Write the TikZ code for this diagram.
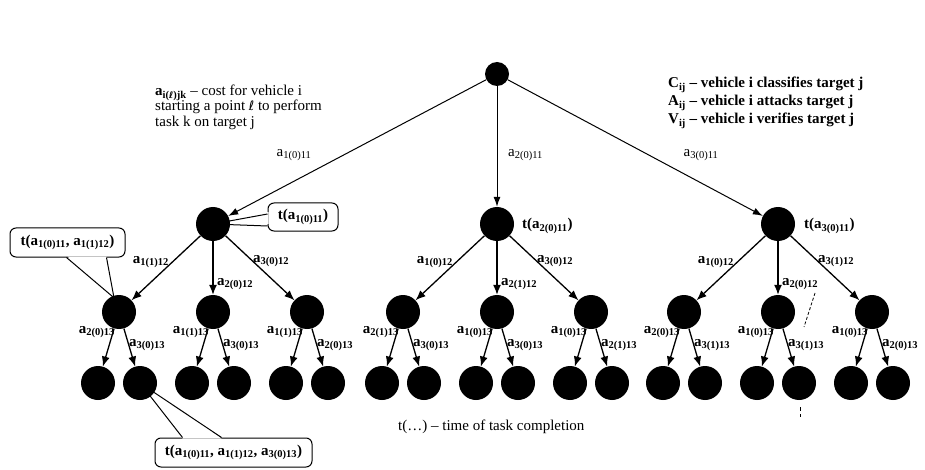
\documentclass[tikz,border=0pt]{standalone}
\usepackage{fontspec}
\setmainfont{Liberation Serif}
\newfontfamily\dvsf{DejaVu Sans}
\usetikzlibrary{arrows.meta,calc}
\pgfdeclarelayer{background}
\pgfsetlayers{background,main}
\newcommand\ev[1]{a\textsubscript{#1}}
\tikzset{
  rootdot/.style={circle,fill=black,inner sep=0pt,minimum size=24pt},
  dotnode/.style={circle,fill=black,inner sep=0pt,minimum size=34pt},
  arr/.style={-{Latex[length=10pt,width=8pt]},line width=1.3pt},
  toparr/.style={-{Latex[length=10pt,width=7pt]},line width=1pt},
  elab/.style={font=\fontsize{15}{18}\selectfont\bfseries,inner sep=0pt},
  tlab/.style={font=\fontsize{15}{18}\selectfont,inner sep=0pt},
  blab/.style={font=\fontsize{15}{18}\selectfont\bfseries,inner sep=0pt},
  bubble/.style={draw,line width=1pt,rounded corners=6pt,fill=white,
    font=\fontsize{15}{18}\selectfont\bfseries,inner sep=0pt},
  tailfill/.style={fill=white},
  tailline/.style={line width=1pt},
  scratch/.style={line width=0.8pt,dash pattern=on 3pt off 2pt},
}
\begin{document}
\begin{tikzpicture}[x=1pt,y=-1pt]
\useasboundingbox (0,0) rectangle (925,470);
% root
\node[rootdot] (r) at (497,74) {};
% tree
\foreach \n/\x in {A/213,B/497,C/778} {
  \node[dotnode] (\n) at (\x,224) {};
  \draw[toparr] (r) -- (\n);
  \foreach \k/\dx in {1/-94,2/0,3/94} {
    \node[dotnode] (\n\k) at (\x+\dx,312) {};
    \node[dotnode] (\n\k a) at (\x+\dx-21,383) {};
    \node[dotnode] (\n\k b) at (\x+\dx+21,383) {};
    \draw[arr] (\n) -- (\n\k);
    \draw[arr] (\n\k) -- (\n\k a);
    \draw[arr] (\n\k) -- (\n\k b);
  }
}
% level-1 edge labels
\node[tlab] at (294,155) {\ev{1(0)11}};
\node[tlab,anchor=west] at (508,155) {\ev{2(0)11}};
\node[tlab] at (701,155) {\ev{3(0)11}};
% level-2 edge labels
\foreach \n/\l/\m/\r in {A/1(1)12/2(0)12/3(0)12, B/1(0)12/2(1)12/3(0)12, C/1(0)12/2(0)12/3(1)12} {
  \node[elab,anchor=east] at ($(\n)+(-44,38)$) {\ev{\l}};
  \node[elab,anchor=west] at ($(\n)+(4,60)$) {\ev{\m}};
  \node[elab,anchor=west] at ($(\n)+(40,37)$) {\ev{\r}};
}
% leaf edge labels
\foreach \n/\l/\r in {A1/2(0)13/3(0)13, A2/1(1)13/3(0)13, A3/1(1)13/2(0)13,
                      B1/2(1)13/3(0)13, B2/1(0)13/3(0)13, B3/1(0)13/2(1)13,
                      C1/2(0)13/3(1)13, C2/1(0)13/3(1)13, C3/1(0)13/2(0)13} {
  \node[elab,anchor=east] at ($(\n)+(-4,20)$) {\ev{\l}};
  \node[elab,anchor=west] at ($(\n)+(10,33)$) {\ev{\r}};
}
% time labels
\node[blab,anchor=west] (tb) at (522,226) {t(\ev{2(0)11})};
\node[blab,anchor=west] (tc) at (804,226) {t(\ev{3(0)11})};
% callouts
\begin{pgfonlayer}{background}
  \node[bubble,minimum width=70pt,minimum height=28pt] (cb1) at (303,217) {t(\ev{1(0)11})};
  \fill[tailfill] ($(cb1.west)+(1,-5)$) -- (A.center) -- ($(cb1.west)+(1,7)$) -- cycle;
  \draw[tailline] ($(cb1.west)+(0,-3)$) -- (A.center) -- ($(cb1.west)+(0,9)$);
  \node[bubble,minimum width=115pt,minimum height=29pt] (cb2) at (67.5,242.5) {t(\ev{1(0)11}, \ev{1(1)12})};
  \coordinate (tip2) at ($(A1.north)+(-5,3)$);
  \fill[tailfill] ($(cb2.south)+(0,-1)$) -- ($(cb2.south)+(39,-1)$) -- (tip2) -- cycle;
  \draw[tailline] ($(cb2.south)+(-1,0)$) -- (tip2) -- ($(cb2.south)+(39,0)$);
  \node[bubble,minimum width=157pt,minimum height=29pt] (cb3) at (233.5,452.5) {t(\ev{1(0)11}, \ev{1(1)12}, \ev{3(0)13})};
  \fill[tailfill] ($(cb3.north)+(-51,1)$) -- (A1b.center) -- ($(cb3.north)+(-12,1)$) -- cycle;
  \draw[tailline] ($(cb3.north)+(-51,0)$) -- (A1b.center) -- ($(cb3.north)+(-12,0)$);
\end{pgfonlayer}
% scan marks
\draw[scratch] (815,293) -- (804,327);
\draw[line width=0.8pt] (800,407) -- (800,411) (800,414) -- (800,417);
% legends
\node[tlab,anchor=base west] (l1) at (155,96) {\textbf{\ev{i({\dvsf\fontsize{9}{10}\selectfont ℓ})jk}} – cost for vehicle i};
\node[tlab,anchor=base west] (l2) at (155,111) {starting a point {\dvsf\fontsize{13}{15}\selectfont ℓ} to perform};
\node[tlab,anchor=base west] (l3) at (155,127) {task k on target j};
\node[blab,anchor=base west] (c1) at (668,88) {C\textsubscript{ij} – vehicle i classifies target j};
\node[blab,anchor=base west] (c2) at (668,106) {A\textsubscript{ij} – vehicle i attacks target j};
\node[blab,anchor=base west] (c3) at (668,124) {V\textsubscript{ij} – vehicle i verifies target j};
\node[tlab,anchor=west] (tt) at (398,427) {t(…) – time of task completion};
\end{tikzpicture}
\end{document}
